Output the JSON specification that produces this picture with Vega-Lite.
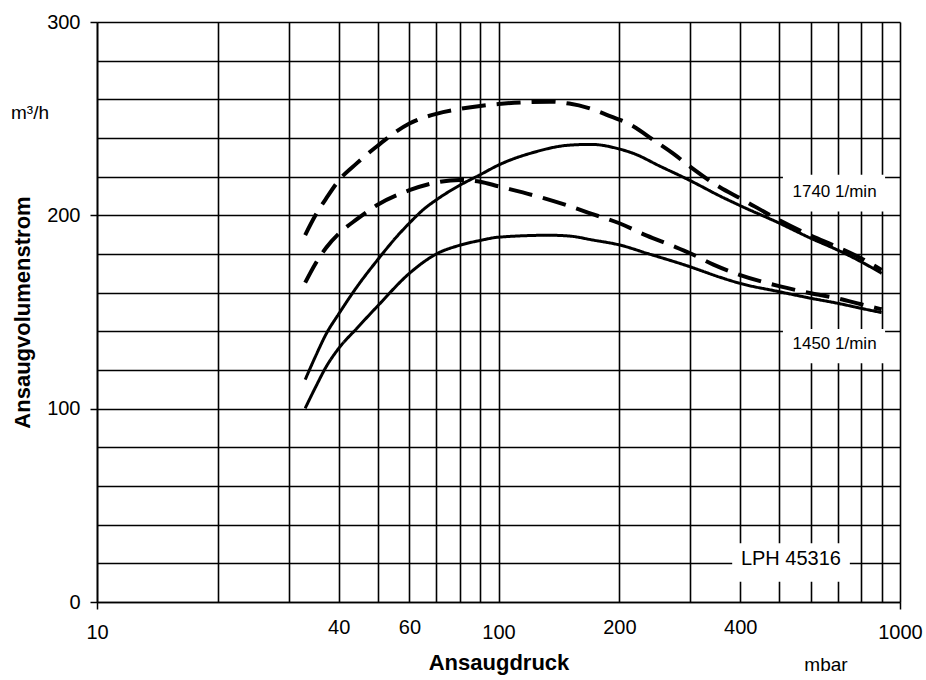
{
  "$schema": "https://vega.github.io/schema/vega-lite/v6.json",
  "width": 803,
  "height": 580,
  "autosize": "none",
  "padding": {"left": 97, "top": 22, "right": 26, "bottom": 78},
  "background": "white",
  "config": {"view": {"stroke": null}, "font": "Liberation Sans"},
  "datasets": {
    "kurven": [
      {"kurve": "1740 A", "variante": "a", "druck": 33, "volumenstrom": 115},
      {"kurve": "1740 A", "variante": "a", "druck": 35, "volumenstrom": 127},
      {"kurve": "1740 A", "variante": "a", "druck": 37.3, "volumenstrom": 139},
      {"kurve": "1740 A", "variante": "a", "druck": 40, "volumenstrom": 149},
      {"kurve": "1740 A", "variante": "a", "druck": 44.4, "volumenstrom": 163},
      {"kurve": "1740 A", "variante": "a", "druck": 50, "volumenstrom": 177},
      {"kurve": "1740 A", "variante": "a", "druck": 55.8, "volumenstrom": 189},
      {"kurve": "1740 A", "variante": "a", "druck": 60, "volumenstrom": 196},
      {"kurve": "1740 A", "variante": "a", "druck": 65, "volumenstrom": 203},
      {"kurve": "1740 A", "variante": "a", "druck": 70, "volumenstrom": 208},
      {"kurve": "1740 A", "variante": "a", "druck": 80, "volumenstrom": 215.5},
      {"kurve": "1740 A", "variante": "a", "druck": 90, "volumenstrom": 221},
      {"kurve": "1740 A", "variante": "a", "druck": 100, "volumenstrom": 226},
      {"kurve": "1740 A", "variante": "a", "druck": 122, "volumenstrom": 232.5},
      {"kurve": "1740 A", "variante": "a", "druck": 150, "volumenstrom": 236.3},
      {"kurve": "1740 A", "variante": "a", "druck": 170, "volumenstrom": 236.7},
      {"kurve": "1740 A", "variante": "a", "druck": 200, "volumenstrom": 234.3},
      {"kurve": "1740 A", "variante": "a", "druck": 217, "volumenstrom": 232},
      {"kurve": "1740 A", "variante": "a", "druck": 252, "volumenstrom": 225.5},
      {"kurve": "1740 A", "variante": "a", "druck": 300, "volumenstrom": 218},
      {"kurve": "1740 A", "variante": "a", "druck": 356, "volumenstrom": 210},
      {"kurve": "1740 A", "variante": "a", "druck": 400, "volumenstrom": 205},
      {"kurve": "1740 A", "variante": "a", "druck": 500, "volumenstrom": 196},
      {"kurve": "1740 A", "variante": "a", "druck": 600, "volumenstrom": 188.1},
      {"kurve": "1740 A", "variante": "a", "druck": 700, "volumenstrom": 182},
      {"kurve": "1740 A", "variante": "a", "druck": 800, "volumenstrom": 176},
      {"kurve": "1740 A", "variante": "a", "druck": 900, "volumenstrom": 170},

      {"kurve": "1450 A", "variante": "a", "druck": 33, "volumenstrom": 100.2},
      {"kurve": "1450 A", "variante": "a", "druck": 35, "volumenstrom": 111},
      {"kurve": "1450 A", "variante": "a", "druck": 37.3, "volumenstrom": 122},
      {"kurve": "1450 A", "variante": "a", "druck": 40, "volumenstrom": 131.2},
      {"kurve": "1450 A", "variante": "a", "druck": 44.4, "volumenstrom": 141.6},
      {"kurve": "1450 A", "variante": "a", "druck": 50, "volumenstrom": 153.1},
      {"kurve": "1450 A", "variante": "a", "druck": 60, "volumenstrom": 170},
      {"kurve": "1450 A", "variante": "a", "druck": 70, "volumenstrom": 180},
      {"kurve": "1450 A", "variante": "a", "druck": 80, "volumenstrom": 184.5},
      {"kurve": "1450 A", "variante": "a", "druck": 90, "volumenstrom": 187},
      {"kurve": "1450 A", "variante": "a", "druck": 100, "volumenstrom": 188.7},
      {"kurve": "1450 A", "variante": "a", "druck": 134, "volumenstrom": 189.7},
      {"kurve": "1450 A", "variante": "a", "druck": 150, "volumenstrom": 189.3},
      {"kurve": "1450 A", "variante": "a", "druck": 172, "volumenstrom": 187.2},
      {"kurve": "1450 A", "variante": "a", "druck": 200, "volumenstrom": 184.7},
      {"kurve": "1450 A", "variante": "a", "druck": 234, "volumenstrom": 180.4},
      {"kurve": "1450 A", "variante": "a", "druck": 300, "volumenstrom": 173.4},
      {"kurve": "1450 A", "variante": "a", "druck": 356, "volumenstrom": 168},
      {"kurve": "1450 A", "variante": "a", "druck": 400, "volumenstrom": 164.8},
      {"kurve": "1450 A", "variante": "a", "druck": 500, "volumenstrom": 160.5},
      {"kurve": "1450 A", "variante": "a", "druck": 600, "volumenstrom": 157.1},
      {"kurve": "1450 A", "variante": "a", "druck": 700, "volumenstrom": 154.5},
      {"kurve": "1450 A", "variante": "a", "druck": 800, "volumenstrom": 151.9},
      {"kurve": "1450 A", "variante": "a", "druck": 900, "volumenstrom": 149.7},

      {"kurve": "1740 B", "variante": "b", "druck": 33, "volumenstrom": 189.8},
      {"kurve": "1740 B", "variante": "b", "druck": 35, "volumenstrom": 200},
      {"kurve": "1740 B", "variante": "b", "druck": 37.3, "volumenstrom": 209},
      {"kurve": "1740 B", "variante": "b", "druck": 40, "volumenstrom": 218},
      {"kurve": "1740 B", "variante": "b", "druck": 44.4, "volumenstrom": 227},
      {"kurve": "1740 B", "variante": "b", "druck": 50, "volumenstrom": 236},
      {"kurve": "1740 B", "variante": "b", "druck": 60, "volumenstrom": 247.5},
      {"kurve": "1740 B", "variante": "b", "druck": 70, "volumenstrom": 252.5},
      {"kurve": "1740 B", "variante": "b", "druck": 80, "volumenstrom": 255},
      {"kurve": "1740 B", "variante": "b", "druck": 90, "volumenstrom": 256.6},
      {"kurve": "1740 B", "variante": "b", "druck": 100, "volumenstrom": 257.6},
      {"kurve": "1740 B", "variante": "b", "druck": 134, "volumenstrom": 258.8},
      {"kurve": "1740 B", "variante": "b", "druck": 150, "volumenstrom": 257.8},
      {"kurve": "1740 B", "variante": "b", "druck": 167, "volumenstrom": 255.6},
      {"kurve": "1740 B", "variante": "b", "druck": 186, "volumenstrom": 252},
      {"kurve": "1740 B", "variante": "b", "druck": 217, "volumenstrom": 246},
      {"kurve": "1740 B", "variante": "b", "druck": 243, "volumenstrom": 239},
      {"kurve": "1740 B", "variante": "b", "druck": 273, "volumenstrom": 231.8},
      {"kurve": "1740 B", "variante": "b", "druck": 300, "volumenstrom": 225.2},
      {"kurve": "1740 B", "variante": "b", "druck": 356, "volumenstrom": 214.5},
      {"kurve": "1740 B", "variante": "b", "druck": 400, "volumenstrom": 208.8},
      {"kurve": "1740 B", "variante": "b", "druck": 500, "volumenstrom": 197.6},
      {"kurve": "1740 B", "variante": "b", "druck": 600, "volumenstrom": 189.5},
      {"kurve": "1740 B", "variante": "b", "druck": 700, "volumenstrom": 183.5},
      {"kurve": "1740 B", "variante": "b", "druck": 800, "volumenstrom": 177.8},
      {"kurve": "1740 B", "variante": "b", "druck": 900, "volumenstrom": 171.7},

      {"kurve": "1450 B", "variante": "b", "druck": 33, "volumenstrom": 165.2},
      {"kurve": "1450 B", "variante": "b", "druck": 35, "volumenstrom": 175},
      {"kurve": "1450 B", "variante": "b", "druck": 37.3, "volumenstrom": 183.5},
      {"kurve": "1450 B", "variante": "b", "druck": 40, "volumenstrom": 190.5},
      {"kurve": "1450 B", "variante": "b", "druck": 44.4, "volumenstrom": 198},
      {"kurve": "1450 B", "variante": "b", "druck": 50, "volumenstrom": 205.5},
      {"kurve": "1450 B", "variante": "b", "druck": 60, "volumenstrom": 213},
      {"kurve": "1450 B", "variante": "b", "druck": 70, "volumenstrom": 217},
      {"kurve": "1450 B", "variante": "b", "druck": 80, "volumenstrom": 218.3},
      {"kurve": "1450 B", "variante": "b", "druck": 90, "volumenstrom": 217.4},
      {"kurve": "1450 B", "variante": "b", "druck": 100, "volumenstrom": 215},
      {"kurve": "1450 B", "variante": "b", "druck": 134, "volumenstrom": 208},
      {"kurve": "1450 B", "variante": "b", "druck": 150, "volumenstrom": 204.8},
      {"kurve": "1450 B", "variante": "b", "druck": 167, "volumenstrom": 201.4},
      {"kurve": "1450 B", "variante": "b", "druck": 200, "volumenstrom": 195.9},
      {"kurve": "1450 B", "variante": "b", "druck": 234, "volumenstrom": 189.5},
      {"kurve": "1450 B", "variante": "b", "druck": 273, "volumenstrom": 184},
      {"kurve": "1450 B", "variante": "b", "druck": 300, "volumenstrom": 180.4},
      {"kurve": "1450 B", "variante": "b", "druck": 343, "volumenstrom": 174.5},
      {"kurve": "1450 B", "variante": "b", "druck": 400, "volumenstrom": 169.1},
      {"kurve": "1450 B", "variante": "b", "druck": 500, "volumenstrom": 163.4},
      {"kurve": "1450 B", "variante": "b", "druck": 600, "volumenstrom": 159.7},
      {"kurve": "1450 B", "variante": "b", "druck": 700, "volumenstrom": 157},
      {"kurve": "1450 B", "variante": "b", "druck": 800, "volumenstrom": 154},
      {"kurve": "1450 B", "variante": "b", "druck": 900, "volumenstrom": 151.4}
    ],
    "kaesten": [
      {"name": "1740", "druck": 511, "druck2": 918, "volumenstrom": 202, "volumenstrom2": 221},
      {"name": "1450", "druck": 511, "druck2": 918, "volumenstrom": 123.5, "volumenstrom2": 141.2},
      {"name": "LPH", "druck": 382, "druck2": 750, "volumenstrom": 10.5, "volumenstrom2": 30.4}
    ],
    "texte": [
      {"art": "kurve", "text": "1740 1/min", "druck": 687, "volumenstrom": 212.3},
      {"art": "kurve", "text": "1450 1/min", "druck": 687, "volumenstrom": 133.7},
      {"art": "typ", "text": "LPH 45316", "druck": 535, "volumenstrom": 22.2},
      {"art": "einheit", "text": "m³/h", "druck": 6.81, "volumenstrom": 252.9},
      {"art": "einheit", "text": "mbar", "druck": 654, "volumenstrom": -32.6}
    ]
  },
  "encoding": {
    "x": {
      "field": "druck",
      "type": "quantitative",
      "scale": {"type": "log", "domain": [10, 1000]},
      "axis": {
        "values": [10, 20, 30, 40, 50, 60, 70, 80, 90, 100, 200, 300, 400, 500, 600, 700, 800, 900, 1000],
        "format": "d",
        "labelExpr": "indexof([10,40,60,100,200,400,1000], datum.value) >= 0 ? datum.label : ''",
        "grid": true,
        "gridColor": "black",
        "gridWidth": 1.6,
        "gridOpacity": 1,
        "domainColor": "black",
        "domainWidth": 1.6,
        "tickColor": "black",
        "tickWidth": 1.5,
        "tickSize": 7,
        "tickOpacity": {"condition": {"test": "datum.value == 10 || datum.value == 1000", "value": 1}, "value": 0},
        "labelFont": "Liberation Sans",
        "labelFontSize": 20,
        "labelColor": "black",
        "labelPadding": {"condition": {"test": "indexof([10,100,1000], datum.value) >= 0", "value": 13}, "value": 8},
        "labelFlush": false,
        "labelOverlap": false,
        "title": "Ansaugdruck",
        "titleFont": "Liberation Sans",
        "titleFontSize": 22,
        "titleFontWeight": "bold",
        "titleColor": "black",
        "titlePadding": 10
      }
    },
    "y": {
      "field": "volumenstrom",
      "type": "quantitative",
      "scale": {"domain": [0, 300]},
      "axis": {
        "values": [0, 20, 40, 60, 80, 100, 120, 140, 160, 180, 200, 220, 240, 260, 280, 300],
        "labelExpr": "datum.value % 100 == 0 ? datum.label : ''",
        "grid": true,
        "gridColor": "black",
        "gridWidth": 1.6,
        "gridOpacity": 1,
        "domainColor": "black",
        "domainWidth": 1.6,
        "tickColor": "black",
        "tickWidth": 1.5,
        "tickSize": 7,
        "tickOpacity": {"condition": {"test": "datum.value % 100 == 0", "value": 1}, "value": 0},
        "labelFont": "Liberation Sans",
        "labelFontSize": 20,
        "labelColor": "black",
        "labelPadding": 10,
        "labelFlush": false,
        "labelOverlap": false,
        "title": "Ansaugvolumenstrom",
        "titleFont": "Liberation Sans",
        "titleFontSize": 22,
        "titleFontWeight": "bold",
        "titleColor": "black",
        "titlePadding": 12
      }
    }
  },
  "layer": [
    {
      "data": {"name": "kurven"},
      "mark": {"type": "line", "interpolate": "monotone", "color": "black"},
      "encoding": {
        "detail": {"field": "kurve", "type": "nominal"},
        "strokeDash": {"field": "variante", "type": "nominal", "scale": {"domain": ["a", "b"], "range": [[1, 0], [24, 11]]}, "legend": null},
        "strokeWidth": {"field": "variante", "type": "nominal", "scale": {"domain": ["a", "b"], "range": [3, 4]}, "legend": null}
      }
    },
    {
      "data": {"name": "kaesten"},
      "mark": {"type": "rect", "color": "white", "strokeWidth": 0},
      "encoding": {
        "x2": {"field": "druck2"},
        "y2": {"field": "volumenstrom2"}
      }
    },
    {
      "data": {"name": "texte"},
      "transform": [{"filter": "datum.art == 'kurve'"}],
      "mark": {"type": "text", "font": "Liberation Sans", "fontSize": 17, "align": "center", "baseline": "middle", "color": "black"},
      "encoding": {"text": {"field": "text"}}
    },
    {
      "data": {"name": "texte"},
      "transform": [{"filter": "datum.art == 'typ'"}],
      "mark": {"type": "text", "font": "Liberation Sans", "fontSize": 20, "align": "center", "baseline": "middle", "color": "black"},
      "encoding": {"text": {"field": "text"}}
    },
    {
      "data": {"name": "texte"},
      "transform": [{"filter": "datum.art == 'einheit'"}],
      "mark": {"type": "text", "font": "Liberation Sans", "fontSize": 19, "align": "center", "baseline": "middle", "color": "black"},
      "encoding": {"text": {"field": "text"}}
    }
  ]
}
